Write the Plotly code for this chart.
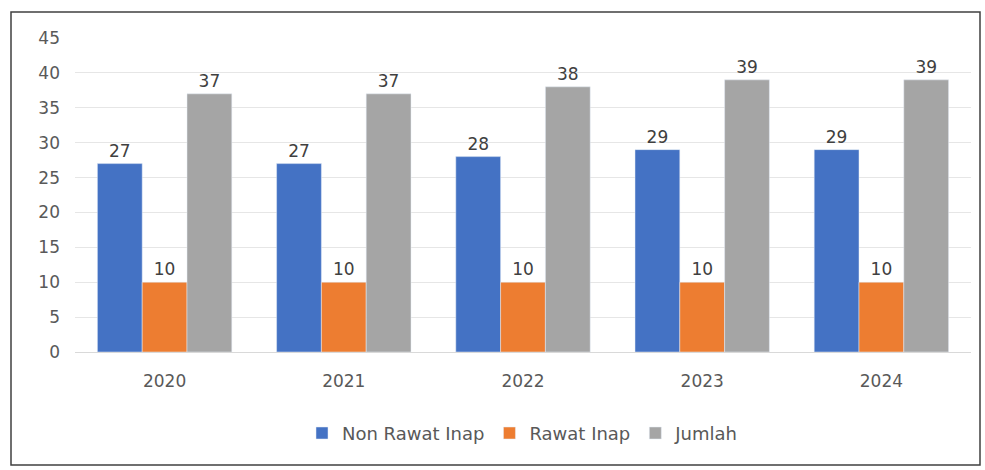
import plotly.graph_objects as go

years = ['2020', '2021', '2022', '2023', '2024']
non_rawat_inap = [27, 27, 28, 29, 29]
rawat_inap = [10, 10, 10, 10, 10]
jumlah = [37, 37, 38, 39, 39]

font = dict(family='DejaVu Sans, sans-serif', size=16, color='#595959')

fig = go.Figure([
    go.Bar(name='Non Rawat Inap', x=years, y=non_rawat_inap, marker_color='#4472C4',
           text=non_rawat_inap),
    go.Bar(name='Rawat Inap', x=years, y=rawat_inap, marker_color='#ED7D31',
           text=rawat_inap),
    go.Bar(name='Jumlah', x=years, y=jumlah, marker_color='#A5A5A5',
           text=jumlah),
])
fig.update_traces(textposition='outside', cliponaxis=False,
                  textfont=dict(family='DejaVu Sans, sans-serif', size=17, color='#404040'))

fig.update_layout(
    width=985, height=470,
    margin=dict(l=75, r=14, t=38, b=118),
    barmode='group', bargap=0.25, bargroupgap=0,
    plot_bgcolor='white', paper_bgcolor='white',
    font=font,
    xaxis=dict(showgrid=False, showline=True, linecolor='#D9D9D9', linewidth=1,
               ticks='', tickfont=dict(font, size=17), ticklabelstandoff=14),
    yaxis=dict(range=[0, 45], dtick=5, showgrid=True, gridcolor='#E6E6E6', gridwidth=1,
               zeroline=False, ticks='', tickfont=dict(font, size=17), ticklabelstandoff=14),
    legend=dict(orientation='h', x=0.5, xanchor='center', y=-0.2, yanchor='top',
                font=dict(font, size=18), itemwidth=30, traceorder='normal'),
    shapes=[dict(type='rect', xref='paper', yref='paper',
                 x0=(11 - 75) / 896, x1=(980 - 75) / 896,
                 y0=(352 - 465) / 314, y1=(352 - 12) / 314,
                 line=dict(color='#404040', width=1.5))],
)

# remove the default page margin so the figure sits at the window's corner
fig.write_html("out.html", config={'displayModeBar': False},
               post_script="document.body.style.margin='0';")
